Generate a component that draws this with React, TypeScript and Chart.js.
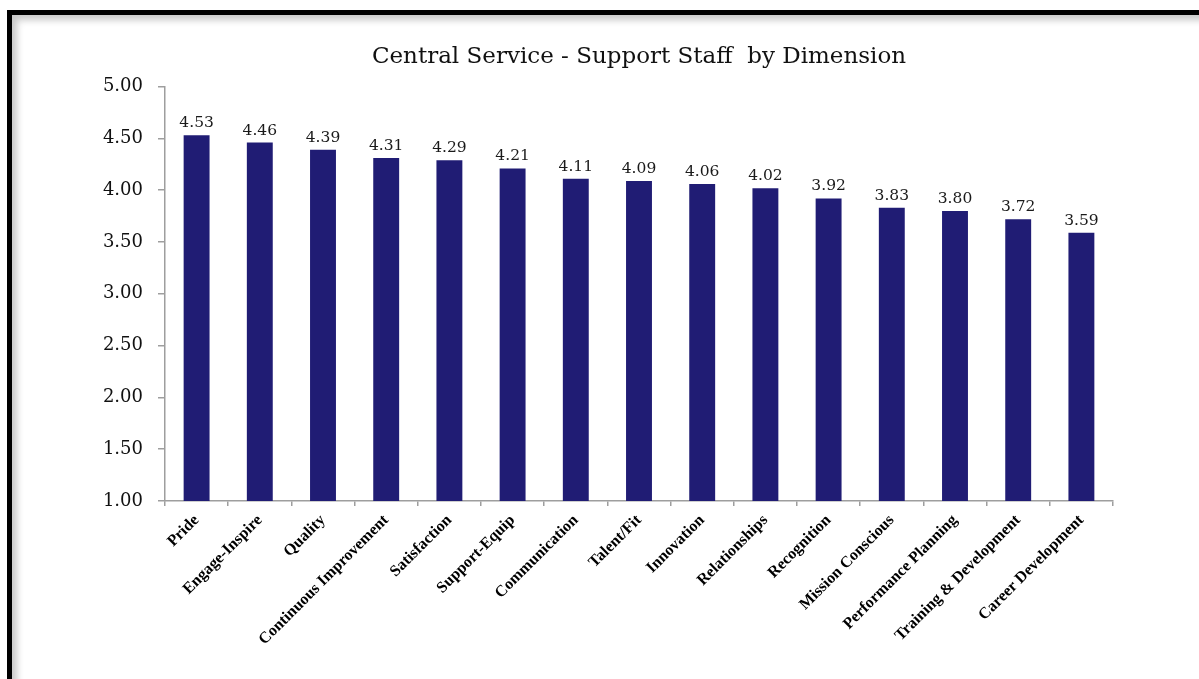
import React, { useEffect, useRef } from "react";
import { Chart, registerables } from "chart.js";

Chart.register(...registerables);

const categories = [
  "Pride",
  "Engage-Inspire",
  "Quality",
  "Continuous Improvement",
  "Satisfaction",
  "Support-Equip",
  "Communication",
  "Talent/Fit",
  "Innovation",
  "Relationships",
  "Recognition",
  "Mission Conscious",
  "Performance Planning",
  "Training & Development",
  "Career Development",
];

const scores = [4.53, 4.46, 4.39, 4.31, 4.29, 4.21, 4.11, 4.09, 4.06, 4.02, 3.92, 3.83, 3.8, 3.72, 3.59];

const titleText = "Central Service - Support Staff  by Dimension";
const yMin = 1;
const yMax = 5;
const yStep = 0.5;

const BAR_COLOR = "#201C74";
const AXIS_COLOR = "#9E9E9E";

const valueLabels = {
  id: "valueLabels",
  afterDatasetsDraw(chart: any) {
    const ctx = chart.ctx;
    const meta = chart.getDatasetMeta(0);
    ctx.save();
    ctx.font = "15.5px 'DejaVu Serif'";
    ctx.fillStyle = "#1a1a1a";
    ctx.textAlign = "center";
    ctx.textBaseline = "alphabetic";
    meta.data.forEach((el: any, i: number) => {
      ctx.fillText(scores[i].toFixed(2), el.x, el.y - 8);
    });
    ctx.restore();
  },
};

export default function App() {
  const ref = useRef<HTMLCanvasElement | null>(null);

  useEffect(() => {
    if (!ref.current) return;
    const chart = new Chart(ref.current, {
      type: "bar",
      data: {
        labels: categories,
        datasets: [
          {
            data: scores,
            backgroundColor: BAR_COLOR,
            borderWidth: 0,
            categoryPercentage: 1,
            barPercentage: 0.41,
          },
        ],
      },
      options: {
        responsive: false,
        animation: false,
        devicePixelRatio: 1,
        layout: { padding: { top: 43, left: 0, right: 86, bottom: 0 } },
        plugins: {
          legend: { display: false },
          tooltip: { enabled: false },
          title: {
            display: true,
            text: titleText,
            fullSize: false,
            color: "#111",
            font: { family: "'DejaVu Serif'", size: 23, weight: "normal", lineHeight: 1.2 },
            padding: { top: 0, bottom: 16 },
          },
        },
        scales: {
          x: {
            grid: {
              display: true,
              drawOnChartArea: false,
              drawTicks: true,
              tickLength: 5,
              color: AXIS_COLOR,
              lineWidth: 1.5,
              offset: true,
            },
            border: { display: true, color: AXIS_COLOR, width: 1.5 },
            ticks: {
              autoSkip: false,
              minRotation: 45,
              maxRotation: 45,
              padding: 5,
              color: "#000",
              font: { family: "'Liberation Serif'", size: 16, weight: "bold" },
            },
            afterFit(scale: any) {
              scale.height = 178;
            },
          },
          y: {
            min: yMin,
            max: yMax,
            grid: {
              display: true,
              drawOnChartArea: false,
              drawTicks: true,
              tickLength: 7,
              color: AXIS_COLOR,
              lineWidth: 1.5,
            },
            border: { display: true, color: AXIS_COLOR, width: 1.5 },
            ticks: {
              stepSize: yStep,
              padding: 15,
              color: "#111",
              font: { family: "'DejaVu Serif'", size: 18 },
              callback: (v: any) => Number(v).toFixed(2),
            },
            afterFit(scale: any) {
              scale.width = 165;
            },
          },
        },
      },
      plugins: [valueLabels],
    });
    return () => chart.destroy();
  }, []);

  return (
    <div
      style={{
        position: "fixed",
        left: 0,
        top: 0,
        width: 1199,
        height: 679,
        overflow: "hidden",
        background: "#fff",
      }}
    >
      <div
        style={{
          position: "absolute",
          left: 7,
          top: 10,
          width: 1300,
          height: 800,
          border: "5px solid #000",
          boxShadow: "inset 5px 5px 7px rgba(0,0,0,0.22)",
          background: "#fff",
        }}
      />
      <canvas
        ref={ref}
        width={1199}
        height={679}
        style={{ position: "absolute", left: 0, top: 0, width: 1199, height: 679 }}
      />
    </div>
  );
}
